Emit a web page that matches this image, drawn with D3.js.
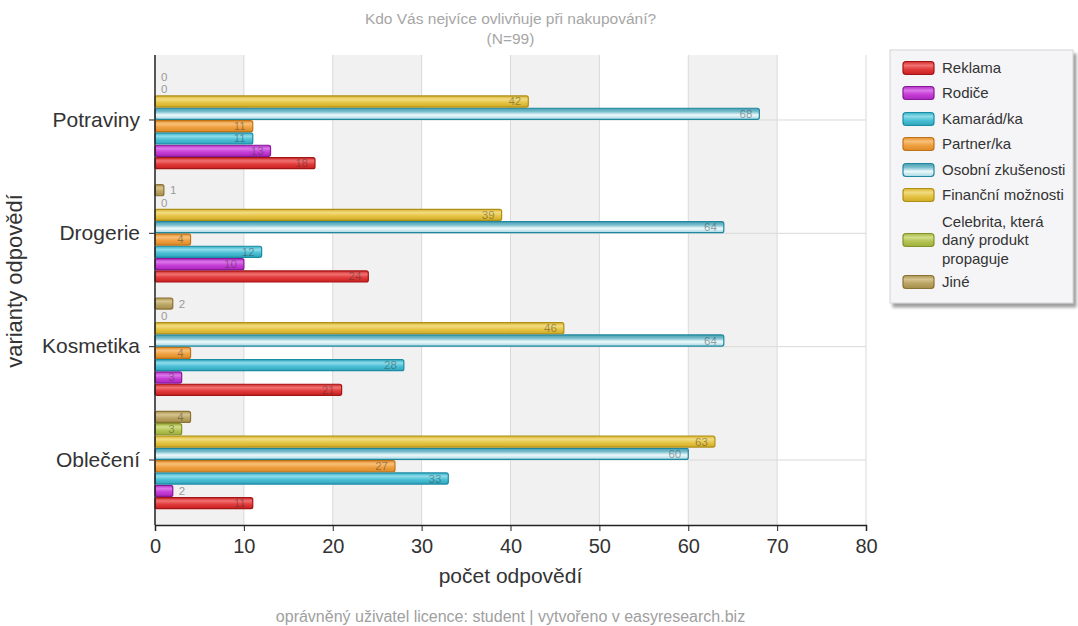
<!DOCTYPE html>
<html>
<head>
<meta charset="utf-8">
<script src="https://cdn.jsdelivr.net/npm/d3@7"></script>
<style>
  html, body { margin: 0; padding: 0; background: #fff; }
  svg { display: block; font-family: "Liberation Sans", Arial, sans-serif; }
</style>
</head>
<body>
<svg id="chart" width="1078" height="626"></svg>
<script>
// Categories (top to bottom) and answer options (series)
const categories = ["Potraviny", "Drogerie", "Kosmetika", "Oblečení"];
const seriesNames = ["Reklama", "Rodiče", "Kamarád/ka", "Partner/ka", "Osobní zkušenosti",
                     "Finanční možnosti", "Celebrita, která daný produkt propaguje", "Jiné"];
const legendLines = [["Reklama"], ["Rodiče"], ["Kamarád/ka"], ["Partner/ka"], ["Osobní zkušenosti"],
                     ["Finanční možnosti"], ["Celebrita, která", "daný produkt", "propaguje"], ["Jiné"]];

// Counts per series, in category order
const reklama   = [18, 24, 21, 11];
const rodice    = [13, 10, 3, 2];
const kamarad   = [11, 12, 28, 33];
const partner   = [11, 4, 4, 27];
const osobni    = [68, 64, 64, 60];
const financni  = [42, 39, 46, 63];
const celebrita = [0, 0, 0, 3];
const jine      = [0, 1, 2, 4];
const seriesValues = [reklama, rodice, kamarad, partner, osobni, financni, celebrita, jine];

const xTicks = [0, 10, 20, 30, 40, 50, 60, 70, 80];

// Fill gradient stops and border per series
const palette = [
  { stops: ["#d22a2a", "#f07272", "#e23b3b", "#c82020"], border: "#a31414" },
  { stops: ["#b22cc4", "#dc78ea", "#c63fd6", "#ac26bd"], border: "#87189a" },
  { stops: ["#35aec6", "#8fdcea", "#4cc0d6", "#2ea4bc"], border: "#1a8ca4" },
  { stops: ["#e68f2c", "#f8c07a", "#f0a040", "#dc8a26"], border: "#bf7318" },
  { stops: ["#4a9db0", "#78bfce", "#eef9fb", "#a6d7e2"], border: "#1f889e" },
  { stops: ["#d8b32e", "#f2dc82", "#e6c445", "#d0ab26"], border: "#ae8e14" },
  { stops: ["#a6b643", "#d2de88", "#b5c455", "#9eae3a"], border: "#839428" },
  { stops: ["#ab9452", "#d6c48e", "#bba565", "#a68e4c"], border: "#8a7234" }
];

const svg = d3.select("#chart");
const margin = { left: 155, right: 866, top: 55, bottom: 525 };
const midX = (margin.left + margin.right) / 2;

const x = d3.scaleLinear().domain([0, 80]).range([margin.left, margin.right]);
const y0 = d3.scaleBand().domain(categories).range([63.3, 516.7]);
const y1 = d3.scaleBand().domain(d3.range(seriesNames.length).reverse())
  .range([8, y0.bandwidth() - 8]).paddingInner(0.1);

// Gradients
const defs = svg.append("defs");
palette.forEach((p, i) => {
  const g = defs.append("linearGradient").attr("id", "grad" + i)
    .attr("x1", 0).attr("y1", 0).attr("x2", 0).attr("y2", 1);
  [0, 0.3, 0.6, 1].forEach((o, k) => g.append("stop").attr("offset", o).attr("stop-color", p.stops[k]));
});
const shadow = defs.append("filter").attr("id", "legendShadow").attr("x", "-10%").attr("y", "-10%")
  .attr("width", "130%").attr("height", "130%");
shadow.append("feDropShadow").attr("dx", 3).attr("dy", 4).attr("stdDeviation", 1.5)
  .attr("flood-color", "#777").attr("flood-opacity", 0.7);

// Alternating background bands
const bands = svg.append("g");
d3.range(0, 80, 20).forEach(v => {
  bands.append("rect").attr("x", x(v)).attr("y", margin.top)
    .attr("width", x(v + 10) - x(v)).attr("height", margin.bottom - margin.top)
    .attr("fill", "#f1f1f1");
});

// Vertical grid lines
svg.append("g").selectAll("line").data(xTicks.slice(1)).join("line")
  .attr("x1", d => x(d)).attr("x2", d => x(d))
  .attr("y1", margin.top).attr("y2", margin.bottom)
  .attr("stroke", "#d9d9d9").attr("stroke-width", 1);

// Horizontal grid lines at category centres
svg.append("g").selectAll("line").data(categories).join("line")
  .attr("x1", margin.left).attr("x2", margin.right)
  .attr("y1", d => y0(d) + y0.bandwidth() / 2).attr("y2", d => y0(d) + y0.bandwidth() / 2)
  .attr("stroke", "#d9d9d9").attr("stroke-width", 1);

// Bars with value labels
const groups = svg.append("g").selectAll("g").data(categories).join("g")
  .attr("transform", d => `translate(0,${y0(d)})`);

groups.each(function (cat, ci) {
  const g = d3.select(this);
  seriesValues.forEach((vals, si) => {
    const v = vals[ci];
    const yy = y1(si);
    const h = y1.bandwidth();
    if (v > 0) {
      g.append("rect")
        .attr("x", x(0)).attr("y", yy)
        .attr("width", x(v) - x(0)).attr("height", h)
        .attr("rx", 2).attr("ry", 2)
        .attr("fill", `url(#grad${si})`)
        .attr("stroke", palette[si].border).attr("stroke-width", 1.2);
    }
    const w = x(v) - x(0);
    const inside = w > 20;
    g.append("text")
      .attr("x", inside ? x(v) - 7 : x(v) + 6)
      .attr("y", yy + h / 2 + 4)
      .attr("text-anchor", inside ? "end" : "start")
      .attr("font-size", 11.5)
      .attr("fill", inside ? "rgba(50,50,50,0.45)" : "#9a9a9a")
      .text(v);
  });
});

// Axes
const xAxis = d3.axisBottom(x).tickValues(xTicks).tickSize(6).tickPadding(8);
const gx = svg.append("g").attr("transform", `translate(0,${margin.bottom})`).call(xAxis);
gx.select(".domain").attr("stroke", "#222").attr("stroke-width", 1.5);
gx.selectAll(".tick line").attr("stroke", "#222");
gx.selectAll("text").attr("font-size", 20).attr("fill", "#333")
  .attr("font-family", "'Liberation Sans', Arial, sans-serif");

const yAxis = d3.axisLeft(y0).tickSize(6).tickPadding(9);
const gy = svg.append("g").attr("transform", `translate(${margin.left},0)`).call(yAxis);
gy.select(".domain").remove();
gy.append("line").attr("x1", 0).attr("x2", 0).attr("y1", margin.top).attr("y2", margin.bottom)
  .attr("stroke", "#222").attr("stroke-width", 1.5);
gy.selectAll(".tick line").attr("stroke", "#222");
gy.selectAll("text").attr("font-size", 21).attr("fill", "#333")
  .attr("font-family", "'Liberation Sans', Arial, sans-serif");

// Titles
svg.append("text").attr("x", midX).attr("y", 24).attr("text-anchor", "middle")
  .attr("font-size", 15.5).attr("fill", "#a6a6a6").text("Kdo Vás nejvíce ovlivňuje při nakupování?");
svg.append("text").attr("x", midX).attr("y", 44).attr("text-anchor", "middle")
  .attr("font-size", 15.5).attr("fill", "#a6a6a6").text("(N=99)");

svg.append("text").attr("x", midX).attr("y", 583)
  .attr("text-anchor", "middle").attr("font-size", 21).attr("fill", "#333").text("počet odpovědí");

svg.append("text").attr("transform", "translate(22,281) rotate(-90)")
  .attr("text-anchor", "middle").attr("font-size", 22).attr("fill", "#333").text("varianty odpovědí");

svg.append("text").attr("x", midX).attr("y", 622)
  .attr("text-anchor", "middle").attr("font-size", 16).attr("fill", "#a0a0a0")
  .text("oprávněný uživatel licence: student | vytvořeno v easyresearch.biz");

// Legend
const legend = svg.append("g");
legend.append("defs").append("clipPath").attr("id", "legendClip")
  .append("rect").attr("x", 890).attr("y", 50).attr("width", 183).attr("height", 253);
legend.append("rect").attr("x", 890).attr("y", 50).attr("width", 183).attr("height", 253)
  .attr("fill", "#f5f5f7").attr("stroke", "#d4d4d8").attr("stroke-width", 1)
  .attr("filter", "url(#legendShadow)");

const rowCenters = [68, 93, 119, 144, 170, 195, 240, 282];
const legendItems = legend.append("g").attr("clip-path", "url(#legendClip)");
legendLines.forEach((lines, i) => {
  const cy = rowCenters[i];
  legendItems.append("rect").attr("x", 903).attr("y", cy - 6.5).attr("width", 31).attr("height", 13)
    .attr("rx", 3).attr("ry", 3)
    .attr("fill", `url(#grad${i})`).attr("stroke", palette[i].border).attr("stroke-width", 1.2);
  const n = lines.length;
  lines.forEach((t, k) => {
    legendItems.append("text").attr("x", 942).attr("y", cy + 5 + (k - (n - 1) / 2) * 18.5)
      .attr("font-size", 15).attr("fill", "#333").text(t);
  });
});
</script>
</body>
</html>
